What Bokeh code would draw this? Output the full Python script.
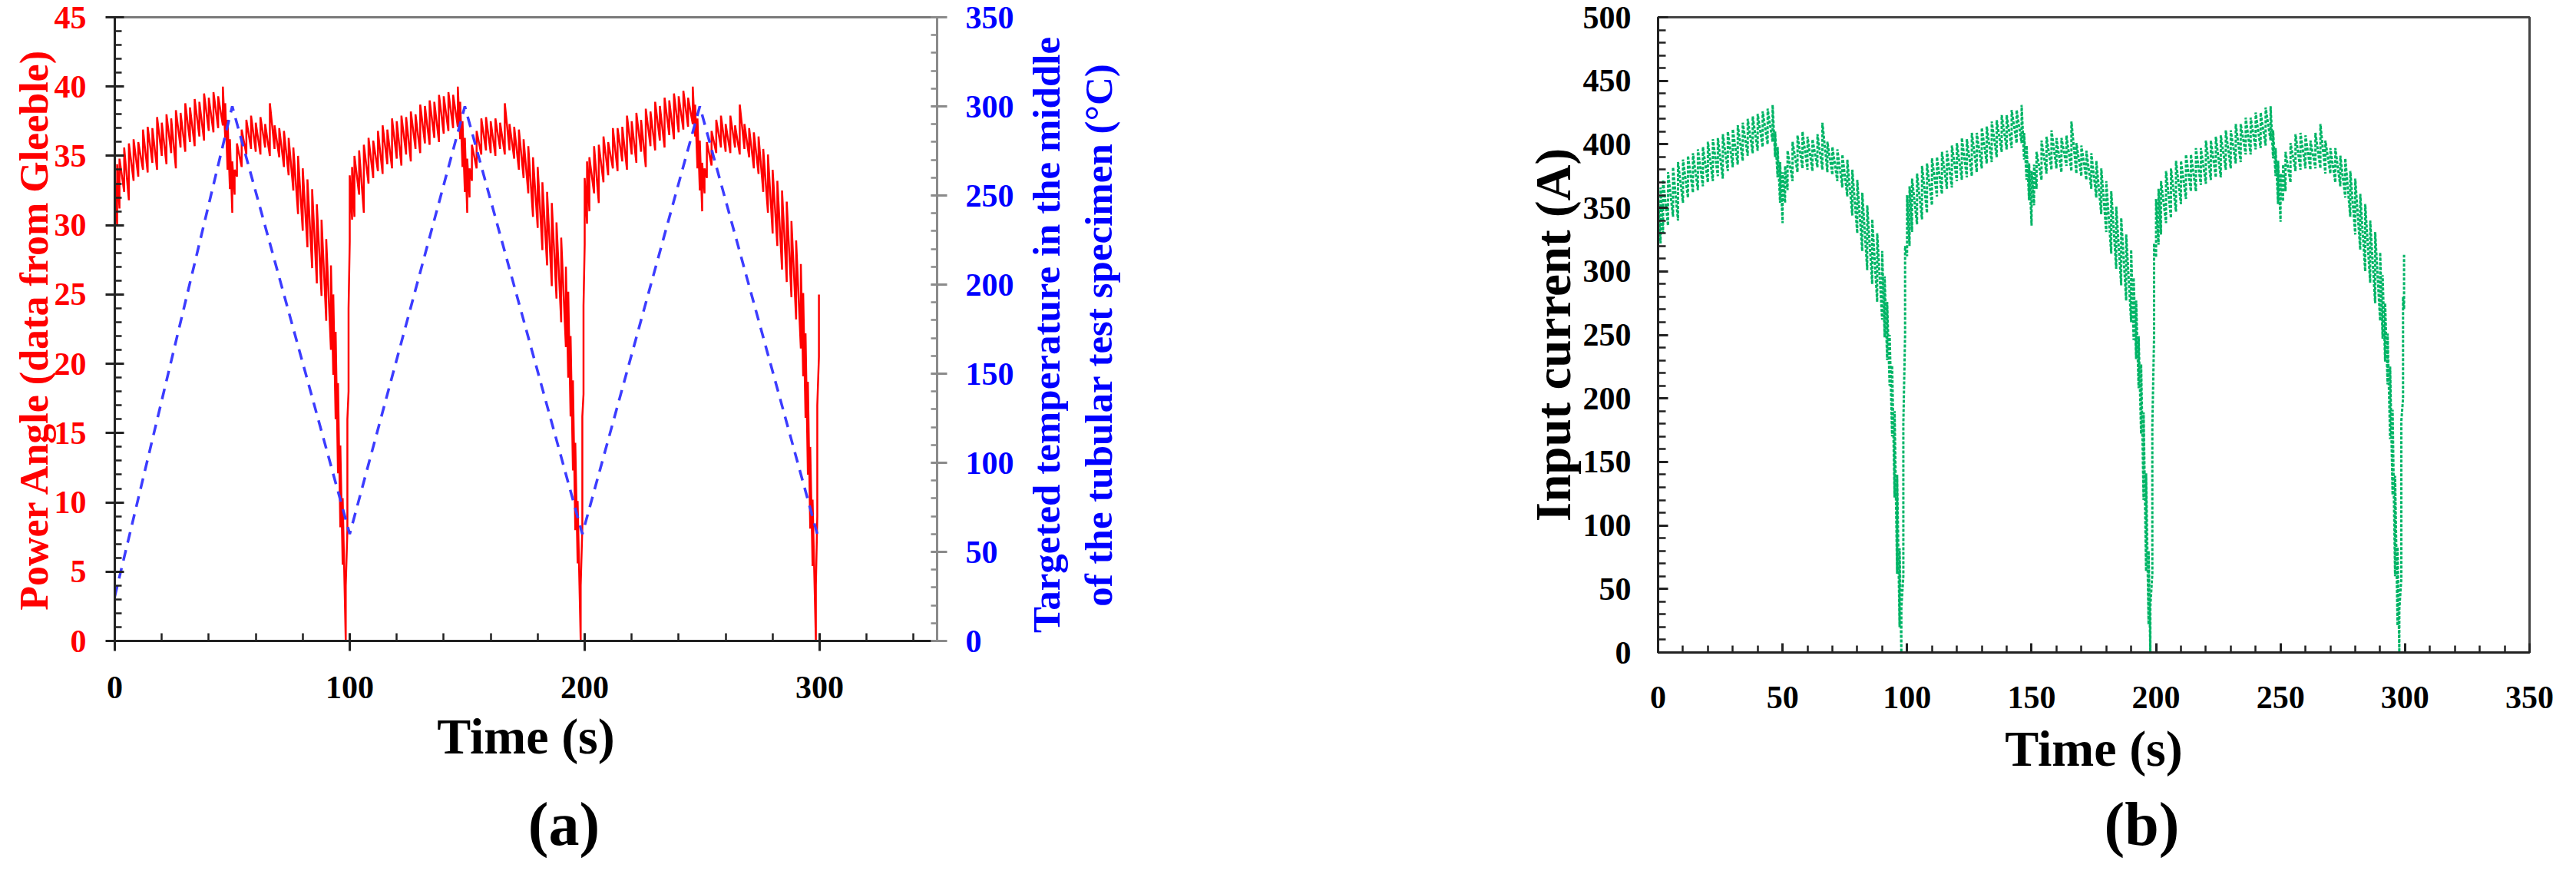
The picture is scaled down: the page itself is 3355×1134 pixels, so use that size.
import numpy as np
from bokeh.plotting import figure
from bokeh.models import Range1d, LinearAxis, FixedTicker
from bokeh.core.properties import value
from bokeh.layouts import row, column
from bokeh.embed import file_html
from bokeh.resources import INLINE

FONT = "Liberation Serif"

# ---------------- data: panel (a) ----------------
# Power angle (data from Gleeble): time, lower and upper extent of the oscillation band
angle_t = [0, 1, 2, 4, 6, 8, 10, 12, 14, 16, 18, 20, 22, 24, 26, 28, 30, 32, 34, 36, 38, 40, 42, 44, 46,
           47, 48, 49, 50, 51, 52, 54, 56, 58, 60, 62, 64, 66, 68, 70, 72, 74, 76, 78, 80, 82, 84, 86, 88,
           90, 92, 93, 94, 95, 96, 97, 98.3, 99, 99.5,
           100, 101, 102, 104, 106, 108, 110, 112, 114, 116, 118, 120, 122, 124, 126, 128, 130, 132, 134,
           136, 138, 140, 142, 144, 146, 147, 148, 149, 150, 151, 152, 154, 156, 158, 160, 162, 164, 166,
           168, 170, 172, 174, 176, 178, 180, 182, 184, 186, 188, 190, 192, 193, 194, 195, 196, 197, 198.3,
           199, 199.5,
           200, 201, 202, 204, 206, 208, 210, 212, 214, 216, 218, 220, 222, 224, 226, 228, 230, 232, 234,
           236, 238, 240, 242, 244, 246, 247, 248, 249, 250, 251, 252, 254, 256, 258, 260, 262, 264, 266,
           268, 270, 272, 274, 276, 278, 280, 282, 284, 286, 288, 290, 292, 293, 294, 295, 296, 297, 298.4,
           299, 299.7]
angle_lo = [28.5, 30.0, 31.2, 32.4, 31.8, 33.2, 33.5, 34.0, 33.8, 34.5, 34.0, 35.0, 34.4, 35.2, 34.1, 35.6,
            35.3, 36.0, 35.7, 36.4, 36.1, 36.8, 36.7, 37.0, 37.2,
            36.3, 34.0, 32.6, 30.9, 32.2, 33.5, 34.2, 35.1, 35.5, 35.3, 35.1, 35.6, 35.0, 35.5, 34.9, 34.2,
            33.6, 32.5, 30.8, 29.6, 28.4, 26.9, 25.8, 24.9,
            23.1, 21.0, 19.2, 16.0, 12.1, 8.2, 5.5, 0.0, 8.0, 18.0,
            28.8, 30.4, 30.6, 32.2, 30.9, 33.0, 33.4, 33.9, 33.7, 34.4, 34.1, 34.8, 34.3, 35.1, 34.6, 35.5,
            35.2, 35.9, 35.8, 36.3, 36.0, 36.6, 36.8, 37.0, 37.1, 36.2, 34.2, 32.4, 30.9, 32.0, 33.2, 34.1,
            35.1, 35.4, 35.2, 35.0, 35.5, 35.1, 35.4, 34.8, 34.0, 33.4, 32.3, 30.6, 29.8, 28.2, 27.1, 25.6,
            24.7, 23.0, 21.2, 19.0, 16.2, 12.3, 8.0, 5.6, 0.0, 8.2, 17.8,
            28.6, 30.1, 31.0, 32.3, 31.6, 33.1, 33.6, 34.1, 33.9, 34.6, 34.0, 35.1, 34.5, 35.3, 34.2, 35.7,
            35.4, 36.1, 35.6, 36.5, 36.2, 36.7, 36.9, 37.1, 37.3, 36.4, 34.1, 32.5, 31.0, 32.3, 33.4, 34.3,
            35.2, 35.6, 35.3, 35.2, 35.6, 35.1, 35.5, 34.9, 34.1, 33.7, 32.4, 30.9, 29.4, 28.5, 26.8, 25.9,
            24.8, 23.2, 21.1, 19.1, 16.1, 12.0, 8.1, 5.4, 0.0, 9.0, 20.5]
angle_hi = [33.5, 34.4, 34.8, 35.6, 35.9, 36.2, 36.0, 36.9, 37.1, 37.0, 37.8, 37.4, 38.0, 37.7, 38.3, 38.1,
            38.8, 38.5, 39.1, 38.9, 39.5, 39.2, 39.6, 39.3, 40.0,
            38.8, 37.6, 36.2, 34.6, 34.0, 35.9, 36.9, 37.6, 37.9, 37.4, 37.8, 37.3, 38.8, 37.2, 37.0, 36.8,
            36.3, 35.6, 35.0, 34.1, 33.3, 32.6, 31.5, 30.4,
            29.0, 27.1, 25.0, 22.3, 18.6, 14.1, 10.3, 4.0, 16.0, 24.0,
            33.6, 34.2, 35.0, 35.4, 35.8, 36.3, 36.1, 36.8, 37.2, 36.9, 37.7, 37.5, 37.9, 37.8, 38.2, 38.0,
            38.7, 38.6, 39.0, 38.9, 39.4, 39.3, 39.6, 39.4, 40.0, 38.9, 37.5, 36.3, 34.8, 34.1, 35.8, 36.8,
            37.7, 37.8, 37.5, 37.7, 37.4, 38.8, 37.3, 37.1, 36.9, 36.2, 35.7, 34.9, 34.2, 33.1, 32.4, 31.6,
            30.2, 29.1, 27.0, 25.2, 22.0, 18.8, 14.3, 10.1, 4.0, 16.2, 24.2,
            33.4, 34.6, 34.9, 35.7, 35.8, 36.4, 36.0, 37.0, 37.0, 37.1, 37.9, 37.5, 38.1, 37.6, 38.4, 38.2,
            38.9, 38.6, 39.2, 39.0, 39.5, 39.3, 39.7, 39.2, 40.0, 38.7, 37.7, 36.1, 34.5, 34.1, 36.0, 36.8,
            37.6, 37.9, 37.3, 37.9, 37.2, 38.7, 37.3, 37.0, 36.7, 36.4, 35.5, 35.1, 34.0, 33.2, 32.5, 31.7,
            30.3, 28.9, 27.2, 25.1, 22.2, 18.7, 14.0, 10.2, 4.0, 17.0, 25.0]

# Targeted temperature in the middle of the tubular test specimen (deg C)
temp_t = [0, 50, 100, 149, 199, 249, 299]
temp_v = [25, 300, 60, 300, 60, 300, 60]

# ---------------- data: panel (b) ----------------
current_t = [0, 1, 2, 4, 6, 8, 10, 12, 14, 16, 18, 20, 22, 24, 26, 28, 30, 32, 34, 36, 38, 40, 42, 44, 46,
             47, 48, 49, 50, 51, 52, 54, 56, 58, 60, 62, 64, 66, 68, 70, 72, 74, 76, 78, 80, 82, 84, 86, 88,
             90, 91, 92, 93, 94, 95, 96, 97, 97.7, 98.5, 99.2,
             100, 101, 102, 104, 106, 108, 110, 112, 114, 116, 118, 120, 122, 124, 126, 128, 130, 132, 134,
             136, 138, 140, 142, 144, 146, 147, 148, 149, 150, 151, 152, 154, 156, 158, 160, 162, 164, 166,
             168, 170, 172, 174, 176, 178, 180, 182, 184, 186, 188, 190, 191, 192, 193, 194, 195, 196, 197,
             197.7, 198.5, 199.2,
             200, 201, 202, 204, 206, 208, 210, 212, 214, 216, 218, 220, 222, 224, 226, 228, 230, 232, 234,
             236, 238, 240, 242, 244, 246, 247, 248, 249, 250, 251, 252, 254, 256, 258, 260, 262, 264, 266,
             268, 270, 272, 274, 276, 278, 280, 282, 284, 286, 288, 290, 291, 292, 293, 294, 295, 296, 297,
             297.7, 298.5, 299.2, 299.6]
current_lo = [310, 322, 330, 336, 343, 340, 354, 358, 362, 364, 367, 370, 371, 375, 373, 379, 382, 384, 387,
              391, 393, 395, 398, 400, 402,
              390, 374, 354, 338, 354, 364, 371, 378, 381, 380, 379, 382, 380, 378, 376, 371, 366, 359, 344,
              330, 316, 301, 290, 276,
              262, 248, 230, 210, 170, 122, 62, 20, 0, 60, 250,
              312, 320, 331, 337, 341, 346, 352, 359, 361, 365, 366, 371, 372, 374, 375, 378, 381, 385, 386,
              390, 394, 396, 397, 401, 401, 388, 372, 356, 336, 352, 365, 372, 377, 380, 381, 378, 383, 379,
              377, 375, 372, 365, 358, 345, 331, 314, 302, 289, 277, 260, 246, 231, 208, 172, 120, 64, 22,
              0, 62, 248,
              311, 321, 329, 338, 342, 347, 353, 357, 363, 363, 368, 369, 372, 374, 374, 380, 381, 385, 386,
              392, 392, 396, 397, 399, 403, 389, 375, 353, 339, 355, 363, 370, 379, 380, 381, 380, 381, 381,
              377, 377, 370, 367, 358, 343, 329, 317, 300, 291, 275, 261, 247, 229, 211, 168, 124, 60, 21,
              0, 58, 200, 270]
current_hi = [358, 366, 372, 378, 382, 386, 388, 391, 393, 396, 398, 402, 404, 405, 408, 410, 412, 415, 417,
              420, 422, 424, 426, 428, 431,
              410, 398, 386, 378, 383, 395, 402, 407, 410, 406, 404, 408, 417, 402, 398, 396, 392, 388, 380,
              372, 362, 352, 341, 330,
              316, 296, 276, 250, 226, 190, 140, 82, 35, 180, 320,
              360, 367, 373, 377, 383, 385, 389, 390, 394, 395, 399, 401, 405, 404, 409, 409, 413, 414, 418,
              419, 423, 423, 427, 427, 431, 409, 399, 385, 379, 384, 394, 403, 406, 411, 405, 405, 407, 418,
              401, 399, 395, 393, 387, 381, 371, 363, 351, 342, 329, 317, 295, 277, 249, 227, 189, 141, 80,
              36, 178, 322,
              357, 365, 371, 379, 381, 387, 387, 392, 392, 397, 397, 403, 403, 406, 407, 411, 411, 416, 416,
              421, 421, 425, 425, 429, 430, 411, 397, 387, 377, 384, 394, 401, 408, 409, 407, 403, 409, 416,
              403, 397, 397, 391, 389, 379, 373, 361, 353, 340, 331, 315, 297, 275, 251, 225, 191, 139, 83,
              34, 182, 280, 313]

x_ticks_a = [0, 100, 200, 300]
x_ticks_b = [0, 50, 100, 150, 200, 250, 300, 350]
angle_ticks = [0, 5, 10, 15, 20, 25, 30, 35, 40, 45]
temp_ticks = [0, 50, 100, 150, 200, 250, 300, 350]
current_ticks = [0, 50, 100, 150, 200, 250, 300, 350, 400, 450, 500]
temp_title = "Targeted temperature in the middle\nof the tubular test specimen (\u00b0C)"

ROW1_H = 1016
ROW2_H = 102


def sawtooth(t, lo, hi):
    x = np.repeat(np.asarray(t, dtype=float), 2)
    y = np.column_stack([np.asarray(lo, dtype=float), np.asarray(hi, dtype=float)]).ravel()
    return x, y


def style_axis(ax, color="#222222", label_color="#000000", tick_in=12, tick_out=0, minor_in=9,
               standoff=20, label_size="42px"):
    ax.axis_line_color = color
    ax.axis_line_width = 3
    ax.major_tick_line_color = color
    ax.minor_tick_line_color = color
    ax.major_tick_line_width = 3
    ax.minor_tick_line_width = 2.5
    ax.major_tick_in = tick_in
    ax.major_tick_out = tick_out
    ax.minor_tick_in = minor_in
    ax.minor_tick_out = 0
    ax.major_label_text_font = FONT
    ax.major_label_text_font_style = "bold"
    ax.major_label_text_font_size = label_size
    ax.major_label_text_color = label_color
    ax.major_label_standoff = standoff
    ax.axis_label_text_font = FONT
    ax.axis_label_text_font_style = "bold"


def blank(w, h):
    f = figure(width=w, height=h, output_backend="svg", toolbar_location=None,
               x_range=Range1d(0, w), y_range=Range1d(0, h), min_border=0,
               x_axis_type=None, y_axis_type=None)
    f.grid.visible = False
    f.outline_line_color = None
    f.background_fill_color = "white"
    f.border_fill_color = "white"
    return f


# ---------------- panel (a) ----------------
pa = figure(frame_width=1071, frame_height=812, output_backend="svg", toolbar_location=None,
            x_range=Range1d(0, 350), y_range=Range1d(0, 45),
            min_border_left=149, min_border_right=107, min_border_top=20,
            min_border_bottom=ROW1_H - 20 - 812,
            x_axis_label="Time (s)", y_axis_label="Power Angle (data from Gleeble)")
pa.grid.visible = False
pa.outline_line_color = "#7a7a7a"
pa.outline_line_width = 3
pa.background_fill_color = "white"
pa.border_fill_color = "white"

pa.xaxis.ticker = FixedTicker(ticks=x_ticks_a, minor_ticks=list(range(0, 351, 20)))
pa.yaxis.ticker = FixedTicker(ticks=angle_ticks, minor_ticks=list(range(0, 46, 1)))
style_axis(pa.xaxis[0], tick_in=10, tick_out=13, minor_in=10, standoff=33)
style_axis(pa.yaxis[0], label_color="#FF0000", tick_in=12, tick_out=12, minor_in=9, standoff=25)
pa.xaxis.axis_label_text_font_size = "66px"
pa.xaxis.axis_label_text_color = "#000000"
pa.xaxis.axis_label_standoff = 10
pa.yaxis.axis_label_text_font_size = "52px"
pa.yaxis.axis_label_text_color = "#FF0000"
pa.yaxis.axis_label_standoff = -5

pa.extra_y_ranges = {"temp": Range1d(0, 350)}
ax_t = LinearAxis(y_range_name="temp",
                  ticker=FixedTicker(ticks=temp_ticks, minor_ticks=list(range(0, 351, 10))))
style_axis(ax_t, color="#8a8a8a", label_color="#0000FF", tick_in=8, tick_out=13, minor_in=8, standoff=24)
pa.add_layout(ax_t, "right")

ax_, ay_ = sawtooth(angle_t, angle_lo, angle_hi)
pa.line(ax_, ay_, line_color="#FF0000", line_width=2.5)
pa.line(temp_t, temp_v, y_range_name="temp", line_color="#3c3cff", line_width=3.5, line_dash="14 10")

# ---------------- panel (b) ----------------
pb = figure(frame_width=1135, frame_height=827, output_backend="svg", toolbar_location=None,
            x_range=Range1d(0, 350), y_range=Range1d(0, 500),
            min_border_left=832, min_border_right=45, min_border_top=22,
            min_border_bottom=ROW1_H - 22 - 827,
            x_axis_label="Time (s)", y_axis_label="Input current (A)")
pb.grid.visible = False
pb.outline_line_color = "#444444"
pb.outline_line_width = 3
pb.background_fill_color = "white"
pb.border_fill_color = "white"

pb.xaxis.ticker = FixedTicker(ticks=x_ticks_b, minor_ticks=list(range(0, 351, 10)))
pb.yaxis.ticker = FixedTicker(ticks=current_ticks, minor_ticks=list(range(0, 501, 10)))
style_axis(pb.xaxis[0], tick_in=12, tick_out=0, minor_in=9, standoff=44)
style_axis(pb.yaxis[0], tick_in=13, tick_out=0, minor_in=10, standoff=35)
pb.xaxis.axis_label_text_font_size = "66px"
pb.xaxis.axis_label_text_color = "#000000"
pb.xaxis.axis_label_standoff = 13
pb.yaxis.axis_label_text_font_size = "65px"
pb.yaxis.axis_label_text_color = "#000000"
pb.yaxis.axis_label_standoff = 0

# the two-line title of panel (a)'s temperature axis sits in the space left of panel (b)
ax_title = LinearAxis(ticker=FixedTicker(ticks=[]), axis_label=temp_title)
ax_title.axis_line_color = None
ax_title.major_tick_line_color = None
ax_title.minor_tick_line_color = None
ax_title.major_tick_in = 0
ax_title.major_tick_out = 0
ax_title.minor_tick_in = 0
ax_title.minor_tick_out = 0
ax_title.major_label_text_font_size = "1px"
ax_title.axis_label_text_font = FONT
ax_title.axis_label_text_font_style = "bold"
ax_title.axis_label_text_font_size = "51px"
ax_title.axis_label_text_color = "#0000FF"
ax_title.axis_label_standoff = 525
pb.add_layout(ax_title, "left")

bx_, by_ = sawtooth(current_t, current_lo, current_hi)
pb.line(bx_, by_, line_color="#00B466", line_width=3, line_dash="4 2")

# ---------------- captions ----------------
ca = blank(1327, ROW2_H)
ca.text(x=[734], y=[ROW2_H - 56], text=["(a)"], text_align="center", text_baseline="middle",
        text_font=value(FONT), text_font_style="bold", text_font_size=value("80px"), text_color="#000000")
cb = blank(2012, ROW2_H)
cb.text(x=[1462], y=[ROW2_H - 56], text=["(b)"], text_align="center", text_baseline="middle",
        text_font=value(FONT), text_font_style="bold", text_font_size=value("80px"), text_color="#000000")

layout = column(row(pa, pb), row(ca, cb))
open("out.html", "w").write(file_html(layout, INLINE))
